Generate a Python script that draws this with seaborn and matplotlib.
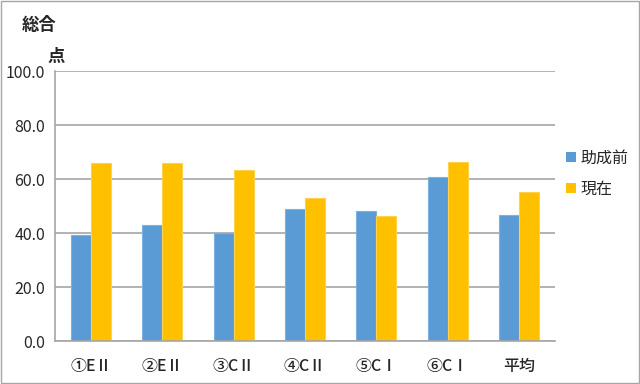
import pandas as pd
import numpy as np
import matplotlib
matplotlib.use('Agg')
import matplotlib.pyplot as plt
import seaborn as sns

categories = ['①EⅡ', '②EⅡ', '③CⅡ', '④CⅡ', '⑤CⅠ', '⑥CⅠ', '平均']
series_names = ['助成前', '現在']
before_vals = [39.3, 42.8, 40.0, 48.8, 48.1, 60.6, 46.5]
now_vals = [66.0, 66.0, 63.3, 52.8, 46.3, 66.4, 55.2]
y_ticks = [0, 20, 40, 60, 80, 100]

df = pd.DataFrame({
    'cat': categories * 2,
    'series': [series_names[0]] * len(categories) + [series_names[1]] * len(categories),
    'score': before_vals + now_vals,
})

sns.set_style('white')
plt.rcParams['font.family'] = ['Noto Sans CJK JP', 'DejaVu Sans']

fig = plt.figure(figsize=(6.4, 3.84), dpi=100)
ax = fig.add_axes([55 / 640, 1 - 341 / 384, 500 / 640, 270 / 384])

sns.barplot(data=df, x='cat', y='score', hue='series', order=categories,
            hue_order=series_names, palette=['#5B9BD5', '#FFC000'],
            saturation=1, width=0.56, ax=ax, legend=True, linewidth=0.8,
            edgecolor='none')
for c, ec in zip(ax.containers, ['#7EB0E0', '#FFD24D']):
    for b in c:
        b.set_edgecolor(ec)

ax.set_xlim(-0.5, len(categories) - 0.5)
ax.set_ylim(0, 100)
ax.set_yticks(y_ticks)
ax.set_yticklabels([f'{v:.1f}' for v in y_ticks], fontsize=11.5)
ax.yaxis.grid(True, color='#A6A6A6', linewidth=1.2)
ax.set_axisbelow(True)
ax.set_xlabel('')
ax.set_ylabel('')

ax.tick_params(axis='x', which='major', length=0, labelsize=11.5, pad=12)
ax.set_xticks(np.arange(-0.5, len(categories), 1.0), minor=True)
ax.tick_params(axis='x', which='minor', length=5, color='#A6A6A6', width=1)
ax.tick_params(axis='y', length=5, color='#A6A6A6', width=1, pad=2)
for lab in ax.get_xticklabels():
    lab.set_fontweight('medium')

for s in ['top', 'right']:
    ax.spines[s].set_visible(False)
for s in ['left', 'bottom']:
    ax.spines[s].set_color('#A6A6A6')
    ax.spines[s].set_linewidth(1.2)

leg = ax.legend(loc='center left', bbox_to_anchor=(1.0, 0.62), frameon=False,
                fontsize=11.5, handlelength=0.6, handleheight=0.6,
                handletextpad=0.3, labelspacing=0.9, borderpad=0.2)

fig.text(22 / 640, 1 - 25 / 384, '総合', fontsize=12.5, weight='bold', va='center')
fig.text(48 / 640, 1 - 57 / 384, '点', fontsize=12.5, weight='bold', va='center')

# outer border
fig.patches.append(plt.Rectangle((0.001, 0.002), 0.997, 0.996, transform=fig.transFigure,
                                 fill=False, edgecolor='#A6A6A6', linewidth=1))

fig.savefig('out.png', dpi=100)
